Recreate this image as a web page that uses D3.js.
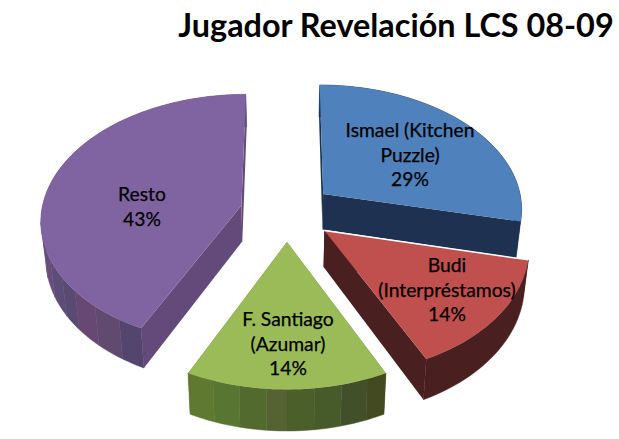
<!DOCTYPE html>
<html>
<head>
<meta charset="utf-8">
<script src="https://cdn.jsdelivr.net/npm/d3@7"></script>
<style>
  html, body { margin: 0; padding: 0; background: #fff; }
  svg { display: block; }
  text { font-family: Lato, "Open Sans", sans-serif; fill: #000; }
</style>
</head>
<body>
<svg id="chart"></svg>
<script>
const titleText = 'Jugador Revelación LCS 08-09';
const categories = ['Ismael (Kitchen Puzzle)', 'Budi (Interpréstamos)', 'F. Santiago (Azumar)', 'Resto'];
const values = [2, 1, 1, 3];

const topColors = ['#4f81bd', '#c0504d', '#9bbb59', '#8064a2'];
const edgeColors = ['#1f3150', '#4a1f1f', '#5f7a30', '#644a7a'];
// wall colours in clockwise order, so from the near end of each slice's rim
const bandColors = [
  ['#1f3150'],
  ['#4a1f1f'],
  ['#434a20', '#42502a', '#465a2a', '#4a5f2a', '#556332', '#526a2e', '#587632', '#5f7a30'],
  ['#54456e', '#604a70', '#664872', '#5a4a72', '#5c4c78', '#6a4c7a', '#664a78', '#5f5080']
];
// share of the rim the bands are spread over, the purple back half never shows
const bandSpan = [1, 1, 1, 0.42];

// manual label placement, the original has these dragged by hand
const labelLines = [
  ['Ismael (Kitchen', 'Puzzle)', '29%'],
  ['Budi', '(Interpréstamos)', '14%'],
  ['F. Santiago', '(Azumar)', '14%'],
  ['Resto', '43%']
];
const labelPos = [
  { x: 410, y: 137 },
  { x: 447, y: 272 },
  { x: 288, y: 326 },
  { x: 142, y: 201 }
];

const width = 619;
const height = 439;
const cx = 287;
const cy = 212;
const scaleX = 200;
const scaleY = 124.5;
const persp = 0.108;
const depth = 36;
const explode = 0.235;
const baseShrink = 0.98;

const svg = d3.select('#chart').attr('width', width).attr('height', height);

// ground plane to screen, perspective on y. z=1 is the underside of the pie
function project(X, Y, z) {
  const p = 1 / (1 - persp * Y);
  const shrink = z ? baseShrink : 1;
  return [cx + scaleX * X * p * shrink, cy + scaleY * Y * p + (z ? depth * p : 0)];
}

const line = d3.line();
const arcs = d3.pie().sort(null).startAngle(0).endAngle(2 * Math.PI)(values);

function slicePoints(a) {
  const mid = (a.startAngle + a.endAngle) / 2;
  const ox = explode * Math.sin(mid);
  const oy = -explode * Math.cos(mid);
  const n = Math.ceil((a.endAngle - a.startAngle) / 0.03);
  const rim = d3.range(n + 1).map(i => {
    const t = a.startAngle + (a.endAngle - a.startAngle) * i / n;
    return [ox + Math.sin(t), oy - Math.cos(t)];
  });
  return { center: [ox, oy], rim };
}

// painted back to front
const order = [0, 3, 2, 1];

order.forEach(i => {
  const { center, rim } = slicePoints(arcs[i]);
  const g = svg.append('g');
  const first = rim[0];
  const last = rim[rim.length - 1];

  [first, last].forEach(pt => {
    const quad = [
      project(center[0], center[1], 0),
      project(pt[0], pt[1], 0),
      project(pt[0], pt[1], 1),
      project(center[0], center[1], 1)
    ];
    g.append('path').attr('d', line(quad) + 'Z').attr('fill', edgeColors[i]);
  });

  // outer wall, one polygon per colour band
  const bands = bandColors[i];
  const steps = (rim.length - 1) * bandSpan[i];
  bands.forEach((color, b) => {
    const from = Math.floor(b * steps / bands.length);
    const to = b === bands.length - 1 ? rim.length - 1 : Math.floor((b + 1) * steps / bands.length);
    const part = rim.slice(from, to + 1);
    const wall = part.map(p => project(p[0], p[1], 0))
      .concat(part.slice().reverse().map(p => project(p[0], p[1], 1)));
    g.append('path').attr('d', line(wall) + 'Z').attr('fill', color).attr('stroke', color).attr('stroke-width', 0.5);
  });

  const top = [center].concat(rim).map(p => project(p[0], p[1], 0));
  g.append('path').attr('class', 'top').attr('d', line(top) + 'Z').attr('fill', topColors[i]);

  // white hairline where Budi runs up against the blue wall
  if (i === 1) {
    g.append('path')
      .attr('d', line([project(center[0], center[1], 0), project(first[0], first[1], 0)]))
      .attr('stroke', '#fff').attr('stroke-width', 1.5).attr('fill', 'none');
  }
});

labelLines.forEach((lines, i) => {
  const t = svg.append('text')
    .attr('text-anchor', 'middle')
    .attr('font-size', 19.3)
    .attr('stroke', '#000')
    .attr('stroke-width', 0.25)
    .attr('aria-label', categories[i]);
  lines.forEach((s, k) => {
    t.append('tspan')
      .attr('x', labelPos[i].x)
      .attr('y', labelPos[i].y + k * 24.6)
      .text(s);
  });
});

svg.append('text')
  .attr('x', 396)
  .attr('y', 37)
  .attr('text-anchor', 'middle')
  .attr('font-size', 32.4)
  .attr('font-weight', 700)
  .text(titleText);
</script>
</body>
</html>
